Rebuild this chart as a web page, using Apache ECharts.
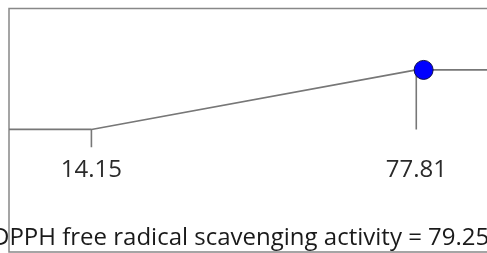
<!DOCTYPE html>
<html>
<head>
<meta charset="utf-8">
<style>
    html, body { margin: 0; padding: 0; background: #fff; }
    #chart { width: 487px; height: 253px; }
</style>
<script src="https://cdn.jsdelivr.net/npm/echarts@6/dist/echarts.min.js"></script>
</head>
<body>
<div id="chart"></div>
<script>
    // profile curve (x = DPPH activity, y = response level)
    var profileX = [-2, 14.15, 77.81, 95];
    var profileY = [0.5, 0.5, 0.75, 0.75];
    // labelled break points and the little vertical drops under them
    var tickValues = [14.15, 77.81];
    var tickTop = [0.5, 0.75];
    var tickBottom = [0.425, 0.5];
    // current setting
    var currentX = 79.25;
    var currentY = 0.75;
    var titleText = 'DPPH free radical scavenging activity = ' + currentX;

    var font = '"Open Sans", "Noto Sans", sans-serif';
    var lineColor = '#777';

    var chart = echarts.init(document.getElementById('chart'));

    var series = [{
        type: 'line',
        data: profileX.map(function (x, i) { return [x, profileY[i]]; }),
        symbol: 'none',
        lineStyle: { color: lineColor, width: 1.6 },
        silent: true,
        z: 2
    }];
    tickValues.forEach(function (x, i) {
        series.push({
            type: 'line',
            data: [[x, tickTop[i]], [x, tickBottom[i]]],
            symbol: 'none',
            lineStyle: { color: lineColor, width: 1.6 },
            silent: true,
            z: 2
        });
    });
    series.push({
        type: 'scatter',
        data: [[currentX, currentY]],
        symbolSize: 19,
        itemStyle: { color: '#0000ff', opacity: 1, borderColor: '#10104a', borderWidth: 1 },
        silent: true,
        z: 5
    });

    var option = {
        animation: false,
        title: {
            text: titleText,
            left: -8,
            top: 226,
            padding: 0,
            textStyle: { fontFamily: font, fontSize: 24, fontWeight: 'normal', color: '#1a1a1a' }
        },
        grid: {
            left: 9, top: 8.5, width: 495, bottom: 1,
            outerBoundsMode: 'none',
            containLabel: false,
            show: true,
            borderColor: '#888',
            borderWidth: 1.5
        },
        xAxis: {
            type: 'value',
            min: -2,
            max: 95,
            offset: -102,
            axisLine: { show: false },
            axisTick: { show: false },
            splitLine: { show: false },
            axisLabel: {
                customValues: tickValues,
                margin: 8,
                fontFamily: font,
                fontSize: 24,
                color: '#2a2a2a',
                formatter: function (v) { return v.toFixed(2); }
            }
        },
        yAxis: {
            type: 'value',
            min: -0.015,
            max: 1.008,
            show: false
        },
        series: series
    };
    chart.setOption(option);
</script>
</body>
</html>
